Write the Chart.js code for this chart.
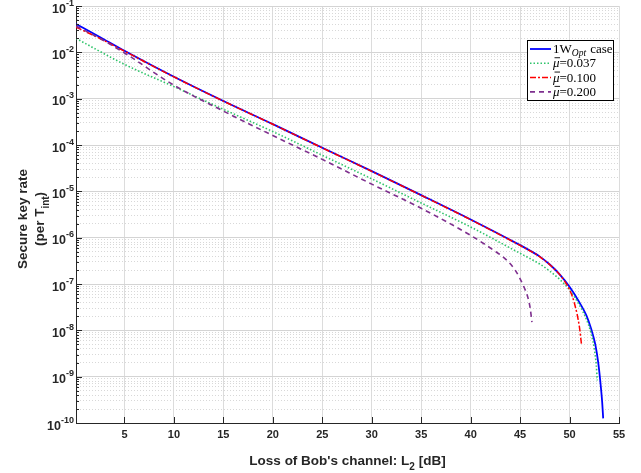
<!DOCTYPE html>
<html>
<head>
<meta charset="utf-8">
<script src="https://cdn.jsdelivr.net/npm/chart.js@4.4.0/dist/chart.umd.min.js"></script>
<style>
html, body { margin: 0; padding: 0; background: #fff; }
</style>
</head>
<body>
<canvas id="key-rate-chart" width="641" height="473"></canvas>
<script>
// loss of Bob's channel [dB] and secure key rate, one pair per curve
var optLoss = [0.1, 2.5, 5, 10, 15, 20, 25, 30, 35, 40, 45, 46, 47, 48, 49, 50, 51, 51.7, 52.2, 52.6, 52.9, 53.1, 53.3, 53.4];
var optRate = [4.1e-2, 2.14e-2, 1.08e-2, 2.97e-3, 8.9e-4, 2.82e-4, 8.7e-5, 2.73e-5, 8.3e-6, 2.47e-6, 6.9e-7, 5.25e-7, 3.9e-7, 2.63e-7, 1.62e-7, 8.7e-8, 4.0e-8, 2.1e-8, 1.05e-8, 5.0e-9, 2.0e-9, 8.3e-10, 2.8e-10, 1.26e-10];

var mu037Loss = [0.1, 5, 10, 15, 20, 25, 30, 35, 40, 45, 46, 47, 48, 49, 50, 51, 51.7, 52.2, 52.5, 52.7, 52.8];
var mu037Rate = [2.0e-2, 5.5e-3, 1.82e-3, 5.9e-4, 1.95e-4, 6.0e-5, 1.86e-5, 5.6e-6, 1.7e-6, 4.6e-7, 3.55e-7, 2.7e-7, 1.9e-7, 1.26e-7, 7.4e-8, 3.5e-8, 1.74e-8, 8.3e-9, 4.0e-9, 1.8e-9, 8.3e-10];

var mu100Loss = [0.1, 2.5, 5, 10, 15, 20, 25, 30, 35, 40, 45, 46, 47, 48, 49, 49.5, 50, 50.5, 51, 51.2];
var mu100Rate = [3.5e-2, 2.0e-2, 1.06e-2, 2.95e-3, 8.85e-4, 2.8e-4, 8.65e-5, 2.7e-5, 8.2e-6, 2.44e-6, 6.8e-7, 5.2e-7, 3.85e-7, 2.6e-7, 1.6e-7, 1.15e-7, 7.6e-8, 3.8e-8, 1.17e-8, 5.1e-9];

var mu200Loss = [0.1, 2.5, 5, 10, 15, 20, 25, 30, 35, 40, 42.3, 43.5, 44.5, 45.3, 45.8, 46, 46.2];
var mu200Rate = [3.7e-2, 2.0e-2, 9.7e-3, 1.95e-3, 5.4e-4, 1.6e-4, 4.9e-5, 1.43e-5, 4.3e-6, 1.12e-6, 5.4e-7, 3.5e-7, 2.0e-7, 9.5e-8, 5.0e-8, 3.2e-8, 1.5e-8];

var seriesNames = ['1W_{Opt} case', '\u03bc\u0304=0.037', '\u03bc\u0304=0.100', '\u03bc\u0304=0.200'];

// axis ticks
var xTicks = [5, 10, 15, 20, 25, 30, 35, 40, 45, 50, 55];
var yMinExp = -10;
var yMaxExp = -1;

var AXIS_COLOR = '#262626';
var SANS = 'Arial, "Liberation Sans", sans-serif';
var SERIF = '"Liberation Serif", "Times New Roman", serif';

function toPoints(xs, ys) {
    var pts = [];
    for (var i = 0; i < xs.length; i++) pts.push({x: xs[i], y: ys[i]});
    return pts;
}

// draws a legend label, handles _{sub} and a barred symbol (char + U+0304)
function drawLabel(ctx, label, x, y) {
    var i = 0;
    while (i < label.length) {
        if (label[i] === '_' && label[i + 1] === '{') {
            var end = label.indexOf('}', i);
            var sub = label.slice(i + 2, end);
            ctx.font = 'italic 9.5px ' + SERIF;
            ctx.fillText(sub, x, y + 3);
            x += ctx.measureText(sub).width + 1;
            i = end + 1;
        } else if (label[i + 1] === '\u0304') {
            ctx.font = 'italic 13px ' + SERIF;
            var w = ctx.measureText(label[i]).width;
            ctx.fillText(label[i], x, y);
            ctx.fillRect(x + 1.5, y - 10, w - 1, 0.9);
            x += w;
            i += 2;
        } else {
            ctx.font = '13px ' + SERIF;
            ctx.fillText(label[i], x, y);
            x += ctx.measureText(label[i]).width;
            i++;
        }
    }
}

var matlabLook = {
    id: 'matlabLook',
    afterDraw: function (chart) {
        var ctx = chart.ctx;
        var xs = chart.scales.x;
        var ys = chart.scales.y;
        var area = chart.chartArea;
        ctx.save();

        // inward tick marks
        ctx.strokeStyle = AXIS_COLOR;
        ctx.lineWidth = 1;
        ctx.beginPath();
        xs.ticks.forEach(function (t) {
            var px = Math.round(xs.getPixelForValue(t.value)) + 0.5;
            ctx.moveTo(px, area.bottom);
            ctx.lineTo(px, area.bottom - 6);
        });
        ys.ticks.forEach(function (t) {
            var py = Math.round(ys.getPixelForValue(t.value)) + 0.5;
            ctx.moveTo(area.left, py);
            ctx.lineTo(area.left + (t.major ? 6 : 3), py);
        });
        ctx.stroke();

        // y tick labels 10^n
        ctx.fillStyle = AXIS_COLOR;
        ctx.textAlign = 'left';
        ctx.textBaseline = 'alphabetic';
        ys.ticks.forEach(function (t) {
            if (!t.major) return;
            var py = ys.getPixelForValue(t.value);
            var e = String(Math.round(Math.log10(t.value)));
            ctx.font = 'bold 9px ' + SANS;
            var we = ctx.measureText(e).width;
            ctx.font = 'bold 12.5px ' + SANS;
            var wb = ctx.measureText('10').width;
            var right = area.left - 2;
            ctx.fillText('10', right - we - wb, py + 6.5);
            ctx.font = 'bold 9px ' + SANS;
            ctx.fillText(e, right - we, py - 0.5);
        });

        // x title with subscript
        var a = 'Loss of Bob\'s channel: L';
        var b = ' [dB]';
        ctx.font = 'bold 13.5px ' + SANS;
        var wa = ctx.measureText(a).width;
        var wbb = ctx.measureText(b).width;
        ctx.font = 'bold 10px ' + SANS;
        var ws = ctx.measureText('2').width;
        var cx = (area.left + area.right) / 2;
        var x0 = cx - (wa + ws + wbb) / 2;
        ctx.font = 'bold 13.5px ' + SANS;
        ctx.fillText(a, x0, 465);
        ctx.font = 'bold 10px ' + SANS;
        ctx.fillText('2', x0 + wa, 469.5);
        ctx.font = 'bold 13.5px ' + SANS;
        ctx.fillText(b, x0 + wa + ws, 465);

        // y title, two lines, rotated
        ctx.save();
        ctx.rotate(-Math.PI / 2);
        var cy = 219;
        ctx.font = 'bold 13.5px ' + SANS;
        ctx.textAlign = 'center';
        ctx.fillText('Secure key rate', -cy, 27);
        ctx.textAlign = 'left';
        var p1 = '(per T';
        var p3 = ')';
        var w1 = ctx.measureText(p1).width;
        var w3 = ctx.measureText(p3).width;
        ctx.font = 'bold 10px ' + SANS;
        var w2 = ctx.measureText('int').width;
        var sx = -cy - (w1 + w2 + w3) / 2;
        ctx.font = 'bold 13.5px ' + SANS;
        ctx.fillText(p1, sx, 44);
        ctx.font = 'bold 10px ' + SANS;
        ctx.fillText('int', sx + w1, 48.5);
        ctx.font = 'bold 13.5px ' + SANS;
        ctx.fillText(p3, sx + w1 + w2, 44);
        ctx.restore();

        // legend box
        var lx = 527, ly = 40, lw = 86, lh = 60;
        ctx.fillStyle = '#fff';
        ctx.fillRect(lx, ly, lw, lh);
        ctx.strokeStyle = '#000';
        ctx.lineWidth = 1;
        ctx.setLineDash([]);
        ctx.strokeRect(lx + 0.5, ly + 0.5, lw, lh);
        chart.data.datasets.forEach(function (ds, i) {
            var ry = ly + 9 + i * 14.3;
            ctx.strokeStyle = ds.borderColor;
            ctx.lineWidth = ds.borderWidth;
            ctx.setLineDash(ds.borderDash || []);
            ctx.beginPath();
            ctx.moveTo(lx + 3, ry);
            ctx.lineTo(lx + 24, ry);
            ctx.stroke();
            ctx.setLineDash([]);
            ctx.fillStyle = '#000';
            drawLabel(ctx, seriesNames[i], lx + 26, ry + 4);
        });

        ctx.restore();
    }
};

Chart.defaults.font.family = SANS;

var ctx = document.getElementById('key-rate-chart').getContext('2d');
var chart = new Chart(ctx, {
    type: 'line',
    data: {
        datasets: [{
            label: seriesNames[0],
            data: toPoints(optLoss, optRate),
            borderColor: '#0000ff',
            borderWidth: 1.8,
            order: 4
        }, {
            label: seriesNames[1],
            data: toPoints(mu037Loss, mu037Rate),
            borderColor: '#2fc46a',
            borderWidth: 1.6,
            borderDash: [1.5, 2],
            order: 3
        }, {
            label: seriesNames[2],
            data: toPoints(mu100Loss, mu100Rate),
            borderColor: '#ff0000',
            borderWidth: 1.5,
            borderDash: [6, 2, 2, 2],
            order: 2
        }, {
            label: seriesNames[3],
            data: toPoints(mu200Loss, mu200Rate),
            borderColor: '#7e2f8e',
            borderWidth: 1.6,
            borderDash: [5, 4],
            order: 1
        }]
    },
    options: {
        responsive: false,
        animation: false,
        layout: {padding: {left: 0, right: 22, top: 6, bottom: 0}},
        elements: {
            point: {radius: 0},
            line: {cubicInterpolationMode: 'monotone', fill: false}
        },
        plugins: {
            legend: {display: false},
            tooltip: {enabled: false}
        },
        scales: {
            x: {
                type: 'linear',
                min: 0.1,
                max: 55,
                afterBuildTicks: function (scale) {
                    scale.ticks = xTicks.map(function (v) { return {value: v}; });
                },
                afterFit: function (scale) { scale.height = 50; },
                ticks: {
                    autoSkip: false,
                    maxRotation: 0,
                    padding: 5,
                    color: AXIS_COLOR,
                    font: {size: 11, weight: 'bold'},
                    callback: function (v) { return v; }
                },
                grid: {color: '#dcdcdc', lineWidth: 1, drawTicks: false},
                border: {color: AXIS_COLOR, width: 1}
            },
            y: {
                type: 'logarithmic',
                min: Math.pow(10, yMinExp),
                max: Math.pow(10, yMaxExp),
                afterBuildTicks: function (scale) {
                    var t = [];
                    for (var e = yMinExp; e < yMaxExp; e++) {
                        for (var k = 1; k <= 9; k++) {
                            t.push({value: parseFloat((k * Math.pow(10, e)).toPrecision(6)), major: k === 1});
                        }
                    }
                    t.push({value: Math.pow(10, yMaxExp), major: true});
                    scale.ticks = t;
                },
                afterFit: function (scale) { scale.width = 76; },
                ticks: {display: false, autoSkip: false},
                grid: {
                    drawTicks: false,
                    lineWidth: 1,
                    color: function (c) {
                        return c.tick && c.tick.major ? '#d4d4d4' : '#d8d8d8';
                    }
                },
                border: {
                    color: AXIS_COLOR,
                    width: 1,
                    dash: function (c) {
                        return c.tick && !c.tick.major ? [1, 2] : [];
                    }
                }
            }
        }
    },
    plugins: [matlabLook]
});
</script>
</body>
</html>
